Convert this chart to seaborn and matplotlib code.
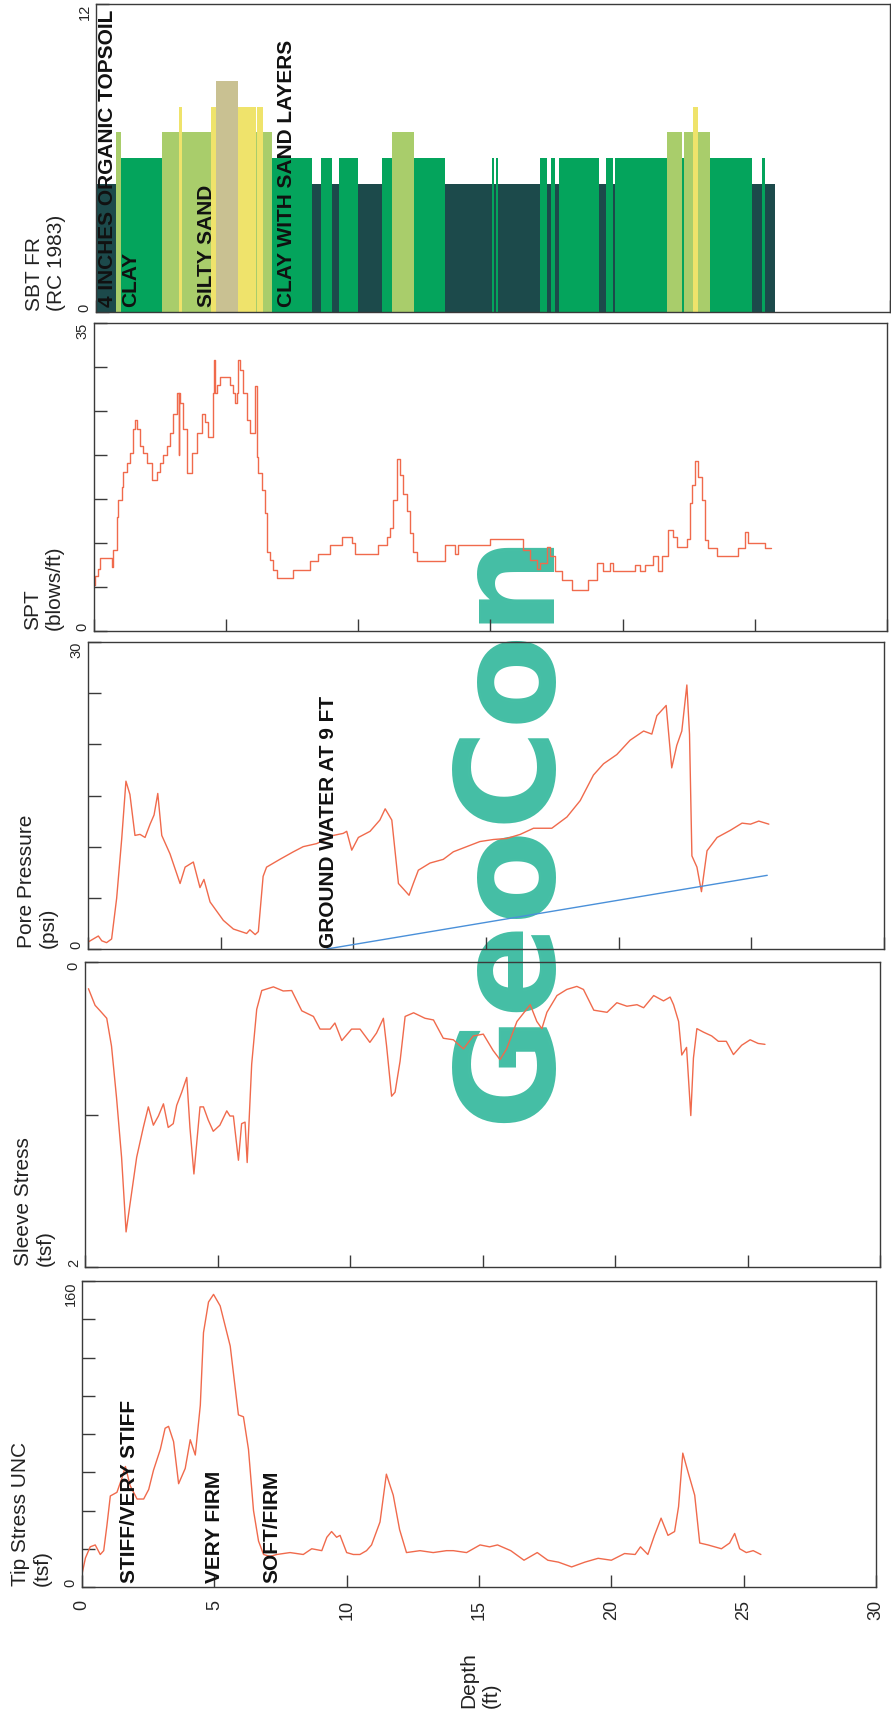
import numpy as np
import pandas as pd
import seaborn as sns
import matplotlib.pyplot as plt
from matplotlib import transforms

W, H = 891, 1721

# ---- data (depth in ft) ----
tip_depth = [0, 0.13, 0.31, 0.5, 0.69, 0.82, 0.94, 1.07, 1.32, 1.51,
             1.64, 1.82, 2.08, 2.33, 2.52, 2.70, 2.96, 3.14, 3.27, 3.46,
             3.65, 3.9, 4.09, 4.28, 4.47, 4.59, 4.78, 4.97, 5.22, 5.6,
             5.91, 6.1, 6.29, 6.48, 6.67, 6.86, 7.1, 7.36, 7.86, 8.36,
             8.68, 9.06, 9.25, 9.43, 9.62, 9.75, 10.0, 10.25, 10.5, 10.75,
             10.94, 11.26, 11.5, 11.76, 12.0, 12.26, 12.77, 13.27, 13.77, 14.03,
             14.53, 15.04, 15.4, 15.7, 16.2, 16.7, 17.2, 17.6, 18.0, 18.5,
             19.0, 19.5, 20.0, 20.5, 20.9, 21.1, 21.38, 21.63, 21.88, 22.14,
             22.39, 22.54, 22.7, 22.9, 23.15, 23.34, 23.65, 24.16, 24.47, 24.66,
             24.85, 25.1, 25.36, 25.65]
tip_tsf = [6.7, 15.2, 21, 22, 17, 19, 32, 47.6, 49.5, 57,
           63, 53, 46, 46, 51, 61, 72, 83, 84, 76,
           54, 62, 77, 69, 95, 133, 149, 153, 147, 126,
           90, 89, 72, 40, 24, 17, 16, 17, 18, 17,
           20, 19, 26, 29, 26, 27, 18, 17, 17, 19,
           22, 34, 59, 48, 30, 18, 19, 18, 19, 19,
           18, 22, 21, 22, 19, 14, 18, 14, 13, 10.5,
           13, 15, 14, 17.5, 17, 21, 17, 27, 36, 27,
           29, 42, 70, 60, 48, 23, 22, 20, 23, 28,
           20, 18, 19, 17]

sleeve_depth = [0.13, 0.38, 0.57, 0.82, 1.0, 1.19, 1.38, 1.55, 1.95, 2.2,
                2.39, 2.58, 2.77, 2.96, 3.14, 3.33, 3.46, 3.65, 3.84, 3.96,
                4.11, 4.34, 4.47, 4.65, 4.84, 5.09, 5.35, 5.47, 5.6, 5.79,
                5.91, 6.04, 6.12, 6.29, 6.48, 6.67, 7.11, 7.48, 7.8, 8.18,
                8.62, 8.87, 9.25, 9.43, 9.69, 10.06, 10.38, 10.75, 11.0, 11.26,
                11.38, 11.57, 11.7, 11.89, 12.08, 12.4, 12.83, 13.15, 13.52, 13.9,
                14.28, 14.65, 15.03, 15.4, 15.66, 15.91, 16.3, 16.8, 17.05, 17.24,
                17.43, 17.81, 18.18, 18.56, 18.81, 19.2, 19.7, 20.07, 20.45, 20.83,
                21.08, 21.46, 21.83, 22.08, 22.21, 22.4, 22.52, 22.7, 22.86, 22.96,
                23.09, 23.34, 23.65, 23.9, 24.2, 24.47, 24.78, 25.1, 25.4, 25.66]
sleeve_tsf = [0.175, 0.284, 0.32, 0.369, 0.551, 0.89, 1.28, 1.77, 1.28, 1.085,
              0.95, 1.07, 1.01, 0.93, 1.085, 1.06, 0.94, 0.854, 0.757, 1.085,
              1.39, 0.95, 0.95, 1.036, 1.11, 1.07, 0.976, 1.01, 1.01, 1.30,
              1.06, 1.05, 1.315, 0.67, 0.31, 0.187, 0.163, 0.19, 0.187, 0.32,
              0.357, 0.44, 0.44, 0.40, 0.515, 0.44, 0.44, 0.527, 0.466, 0.369,
              0.55, 0.88, 0.854, 0.65, 0.357, 0.333, 0.369, 0.38, 0.5, 0.51,
              0.57, 0.485, 0.473, 0.58, 0.64, 0.57, 0.39, 0.28, 0.39, 0.437,
              0.33, 0.22, 0.18, 0.16, 0.18, 0.316, 0.33, 0.267, 0.29, 0.28,
              0.30, 0.22, 0.255, 0.23, 0.28, 0.39, 0.61, 0.56, 1.007, 0.63,
              0.437, 0.46, 0.485, 0.52, 0.52, 0.607, 0.546, 0.51, 0.534, 0.54]

pore_depth = [0.01, 0.2, 0.39, 0.52, 0.7, 0.89, 1.08, 1.27, 1.43, 1.58,
              1.77, 1.96, 2.15, 2.34, 2.49, 2.63, 2.78, 3.09, 3.47, 3.66,
              3.97, 4.22, 4.37, 4.6, 5.1, 5.48, 5.98, 6.1, 6.3, 6.42,
              6.6, 6.73, 7.23, 7.74, 8.11, 8.62, 9.25, 9.62, 9.75, 9.94,
              10.19, 10.63, 11.0, 11.2, 11.45, 11.7, 11.89, 12.1, 12.26, 12.45,
              12.89, 13.39, 13.77, 14.27, 14.77, 15.28, 15.78, 16.29, 16.79, 17.48,
              18.05, 18.55, 19.05, 19.43, 19.93, 20.43, 20.94, 21.25, 21.44, 21.79,
              22.0, 22.19, 22.38, 22.57, 22.67, 22.76, 22.95, 23.12, 23.33, 23.71,
              24.21, 24.65, 24.97, 25.28, 25.66]
pore_psi = [0.69, 0.98, 1.27, 0.8, 0.62, 0.98, 4.96, 10.75, 16.4, 15.1,
            11.1, 11.2, 10.9, 12.2, 13.1, 15.2, 11.1, 9.3, 6.4, 8.0,
            8.5, 6.0, 6.8, 4.6, 2.8, 1.95, 1.52, 1.88, 1.41, 1.7,
            7.1, 8.0, 8.76, 9.5, 10.0, 10.3, 11.1, 11.3, 11.5, 9.66,
            10.9, 11.5, 12.6, 13.7, 12.6, 6.4, 5.86, 5.25, 6.4, 7.7,
            8.4, 8.76, 9.5, 10.0, 10.5, 10.7, 10.8, 11.2, 11.8, 11.8,
            12.9, 14.5, 17.0, 18.1, 19.0, 20.4, 21.3, 21.0, 22.8, 23.8,
            17.7, 19.9, 21.3, 25.8, 21.0, 9.1, 8.0, 5.6, 9.6, 10.9,
            11.6, 12.3, 12.2, 12.5, 12.2]

water_depth = [9.0, 25.6]
water_psi = [0.0, 7.2]

spt_depth = [0.0, 0.04, 0.16, 0.23, 0.67, 0.73, 0.86, 0.92, 1.05, 1.11,
             1.24, 1.36, 1.49, 1.55, 1.61, 1.74, 1.87, 1.99, 2.18, 2.37,
             2.50, 2.62, 2.75, 2.88, 3.00, 3.13, 3.20, 3.23, 3.25, 3.38,
             3.51, 3.69, 3.88, 4.07, 4.20, 4.33, 4.51, 4.55, 4.58, 4.64,
             4.77, 5.15, 5.27, 5.35, 5.40, 5.46, 5.52, 5.65, 5.78, 5.90,
             6.09, 6.15, 6.22, 6.34, 6.47, 6.53, 6.66, 6.78, 6.91, 7.54,
             8.17, 8.49, 8.93, 9.37, 9.75, 9.87, 10.76, 11.07, 11.20, 11.32,
             11.45, 11.58, 11.70, 11.83, 11.95, 12.08, 12.21, 13.28, 13.66, 13.78,
             14.98, 16.24, 16.49, 16.75, 16.87, 17.13, 17.25, 17.44, 17.69, 18.07,
             18.70, 19.02, 19.27, 19.52, 19.65, 20.47, 20.66, 20.84, 21.16, 21.35,
             21.48, 21.73, 21.92, 22.04, 22.42, 22.55, 22.61, 22.74, 22.86, 22.99,
             23.12, 23.24, 23.56, 24.38, 24.63, 24.75, 25.38, 25.61]
spt_blows = [5.2, 6.2, 7.1, 8.3, 7.3, 9.2, 13.0, 14.9, 16.4, 18.1,
             19.1, 20.2, 23.0, 24.0, 22.9, 21.0, 20.2, 19.1, 17.2, 18.1,
             19.1, 20.0, 21.0, 22.5, 24.7, 27.0, 20.0, 27.0, 25.9, 22.9,
             17.9, 20.2, 22.5, 24.7, 23.8, 22.1, 27.0, 30.8, 27.0, 27.9,
             28.9, 27.9, 27.0, 25.9, 27.0, 30.8, 29.7, 27.0, 24.0, 22.5,
             27.8, 19.8, 17.9, 16.0, 13.4, 9.0, 8.1, 6.9, 6.0, 6.9,
             7.9, 8.8, 9.8, 10.7, 10.0, 8.8, 9.8, 10.7, 11.7, 14.9,
             19.6, 17.7, 15.6, 13.6, 11.1, 9.0, 7.9, 9.8, 8.8, 9.8,
             10.5, 9.2, 8.1, 7.0, 7.7, 9.6, 8.5, 6.8, 5.8, 4.7,
             5.8, 7.7, 6.8, 7.7, 6.8, 7.5, 6.8, 7.5, 8.5, 6.8,
             8.5, 11.5, 10.7, 9.6, 10.5, 14.5, 16.6, 19.3, 17.5, 14.9,
             10.3, 9.4, 8.5, 9.4, 11.3, 10.0, 9.4, 9.4]

sbt_start = [0.0, 0.76, 0.95, 2.5, 3.14, 3.25, 4.35, 4.54, 5.37, 6.05,
             6.1, 6.3, 6.65, 8.17, 8.5, 8.9, 9.2, 9.9, 10.8, 11.2,
             12.03, 13.2, 14.95, 15.02, 15.1, 15.2, 16.76, 17.03, 17.2, 17.33,
             17.5, 19.0, 19.27, 19.53, 19.6, 21.56, 22.14, 22.2, 22.55, 22.74,
             23.19, 24.78, 25.16, 25.27]
sbt_end = 25.65
sbt_zone = [5, 7, 6, 7, 8, 7, 8, 9, 8, 7,
            8, 7, 6, 5, 6, 5, 6, 5, 6, 7,
            6, 5, 6, 5, 6, 5, 6, 5, 6, 5,
            6, 5, 6, 5, 6, 7, 6, 7, 8, 7,
            6, 5, 6, 5]

# ---- style ----
sns.set_theme(style="white")
plt.rcParams['font.family'] = ['Liberation Sans', 'DejaVu Sans']
plt.rcParams['axes.edgecolor'] = '#3a3a3a'
plt.rcParams['axes.linewidth'] = 1.0

line_col = '#f06a4c'
zone_colors = {5: '#1c4a4b', 6: '#04a45c', 7: '#a9cd6b', 8: '#efe36b', 9: '#c9c192'}

fig = plt.figure(figsize=(W / 100, H / 100), dpi=100)


def panel(left, right, top, bottom):
    ax = fig.add_axes([left / W, 1 - bottom / H, (right - left) / W, (bottom - top) / H])
    ax.set_facecolor('none')
    return ax


def setup(ax, lo, hi, yt, ends, label, left, bottom, invert=False, depth_labels=False):
    ax.set_xlim(0, 30)
    if invert:
        ax.set_ylim(hi, lo)
    else:
        ax.set_ylim(lo, hi)
    ax.set_xticks(range(0, 31, 5))
    if depth_labels:
        ax.set_xticklabels([str(v) for v in range(0, 31, 5)], rotation=90, fontsize=13)
    else:
        ax.set_xticklabels([])
    ax.tick_params(axis='x', direction='in', length=9, width=1, color='#3a3a3a',
                   pad=9, bottom=True, top=False)
    ax.set_yticks(yt)
    ax.set_yticklabels([ends.get(v, '') for v in yt])
    ax.tick_params(axis='y', direction='in', length=9.5, width=1, color='#3a3a3a',
                   pad=3, labelsize=10.5, left=True, right=False)
    for t in ax.get_yticklabels():
        t.set_rotation(90)
        t.set_ha('right')
    labs = [t for t in ax.get_yticklabels() if t.get_text()]
    # lower-screen end label sits on the bottom edge, upper one on the top edge
    vals = [float(t.get_text()) for t in labs]
    for t, v in zip(labs, vals):
        at_bottom = (v == lo) != invert
        t.set_va('bottom' if at_bottom else 'top')
    fig.text((left - 71) / W, 1 - (bottom - 1) / H, label, rotation=90, ha='left',
             va='bottom', multialignment='left', fontsize=15, color='#222222')


# SBT
ax_sbt = panel(96, 890, 4, 312)
widths = np.diff(sbt_start + [sbt_end])
ax_sbt.bar(sbt_start, sbt_zone, width=widths, align='edge',
           color=[zone_colors[z] for z in sbt_zone], linewidth=0, zorder=1)
setup(ax_sbt, 0, 12, [0, 12], {0: '0', 12: '12'}, 'SBT FR\n(RC 1983)', 96, 312)

# SPT
ax_spt = panel(94, 887, 323, 631)
spt_df = pd.DataFrame({'depth': spt_depth + [25.61], 'blows': spt_blows + [spt_blows[-1]]})
sns.lineplot(data=spt_df, x='depth', y='blows', ax=ax_spt, color=line_col, lw=1.0,
             drawstyle='steps-post', sort=False, estimator=None, errorbar=None)
setup(ax_spt, 0, 35, list(range(0, 36, 5)), {0: '0', 35: '35'}, 'SPT\n(blows/ft)', 94, 631)

# Pore pressure
ax_pore = panel(88, 884, 642, 949)
sns.lineplot(x=pore_depth, y=pore_psi, ax=ax_pore, color=line_col, lw=1.0,
             sort=False, estimator=None, errorbar=None)
sns.lineplot(x=water_depth, y=water_psi, ax=ax_pore, color='#4a90d9', lw=1.0,
             sort=False, estimator=None, errorbar=None)
setup(ax_pore, 0, 30, list(range(0, 31, 5)), {0: '0', 30: '30'}, 'Pore Pressure\n(psi)', 88, 949)

# Sleeve stress
ax_sl = panel(85, 880, 962, 1267)
sns.lineplot(x=sleeve_depth, y=sleeve_tsf, ax=ax_sl, color=line_col, lw=1.0,
             sort=False, estimator=None, errorbar=None)
setup(ax_sl, 0, 2, [0, 1, 2], {0: '0', 2: '2'}, 'Sleeve Stress\n(tsf)', 85, 1267, invert=True)

# Tip stress
ax_tip = panel(82, 876, 1281, 1587)
sns.lineplot(x=tip_depth, y=tip_tsf, ax=ax_tip, color=line_col, lw=1.0,
             sort=False, estimator=None, errorbar=None)
setup(ax_tip, 0, 160, list(range(0, 161, 20)), {0: '0', 160: '160'}, 'Tip Stress UNC\n(tsf)',
      82, 1587, depth_labels=True)

for ax in [ax_sbt, ax_spt, ax_pore, ax_sl, ax_tip]:
    ax.set_xlabel('')
    ax.set_ylabel('')

# annotations
bold = dict(rotation=90, ha='center', va='bottom', fontsize=15, fontweight='bold', color='#111111')
tr = transforms.blended_transform_factory(ax_tip.transData, ax_tip.transAxes)
for d, s in [(1.78, 'STIFF/VERY STIFF'), (4.99, 'VERY FIRM'), (7.18, 'SOFT/FIRM')]:
    ax_tip.text(d, 0.012, s, transform=tr, **bold)

tr = transforms.blended_transform_factory(ax_sbt.transData, ax_sbt.transAxes)
for d, s in [(0.42, '4 INCHES ORGANIC TOPSOIL'), (1.32, 'CLAY'), (4.19, 'SILTY SAND'),
             (7.18, 'CLAY WITH SAND LAYERS')]:
    ax_sbt.text(d, 0.016, s, transform=tr, zorder=5, **bold)

tr = transforms.blended_transform_factory(ax_pore.transData, ax_pore.transAxes)
ax_pore.text(9.05, 0.004, 'GROUND WATER AT 9 FT', transform=tr, **bold)

fig.text(480 / W, 1 - 1708 / H, 'Depth\n(ft)', rotation=90, ha='center', va='bottom',
         multialignment='left', fontsize=15, color='#222222')

# watermark behind the transparent panels
fig.text(511 / W, 1 - 826 / H, 'GeoCon', rotation=90, ha='center', va='center',
         fontsize=99, fontweight='bold', family='DejaVu Sans', color='#34b99d',
         alpha=0.92, zorder=-1)

fig.savefig('out.png', dpi=100)
